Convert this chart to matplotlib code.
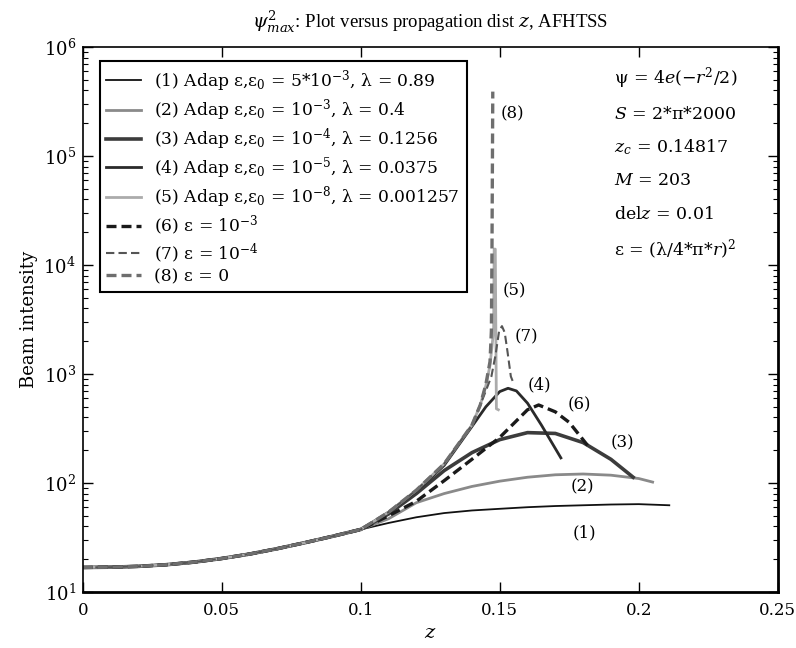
import matplotlib
matplotlib.use('Agg')
import matplotlib.pyplot as plt
import numpy as np

plt.rcParams['font.family'] = ['DejaVu Serif']
plt.rcParams['mathtext.fontset'] = 'dejavuserif'

# shared part of all runs (z from 0 to 0.1)
base_z = [0.0, 0.01, 0.02, 0.03, 0.04, 0.05, 0.06, 0.07, 0.08, 0.09, 0.10]
base_v = [16.8, 16.9, 17.2, 17.8, 18.8, 20.3, 22.3, 25.0, 28.4, 32.5, 37.5]

# steep branch shared by (5), (7), (8)
steep_z = [0.11, 0.12, 0.13, 0.136, 0.14, 0.143]
steep_v = [54, 86, 150, 245, 340, 520]

# tails of each run after the shared part
z1 = [0.11, 0.12, 0.13, 0.14, 0.15, 0.16, 0.17, 0.18, 0.19, 0.20, 0.211]
v1 = [43, 48.5, 53, 56, 58, 60, 61.5, 62.5, 63.5, 64, 62.5]
z2 = [0.11, 0.12, 0.13, 0.14, 0.15, 0.16, 0.17, 0.18, 0.19, 0.20, 0.205]
v2 = [47, 66, 80, 93, 104, 113, 119, 121, 118, 110, 102]
z3 = [0.11, 0.12, 0.13, 0.14, 0.15, 0.16, 0.17, 0.18, 0.19, 0.198]
v3 = [52, 80, 130, 190, 250, 290, 285, 235, 165, 113]
z4 = [0.11, 0.12, 0.13, 0.14, 0.145, 0.15, 0.153, 0.156, 0.16, 0.165, 0.172]
v4 = [54, 84, 145, 330, 500, 690, 740, 700, 540, 340, 170]
z5 = [0.145, 0.1465, 0.1478, 0.148, 0.1484, 0.1488, 0.1495]
v5 = [780, 1200, 2500, 14000, 14000, 480, 470]
z6 = [0.11, 0.12, 0.13, 0.14, 0.15, 0.16, 0.164, 0.17, 0.175, 0.182]
v6 = [50, 68, 105, 165, 262, 470, 520, 450, 360, 215]
z7 = [0.145, 0.147, 0.1485, 0.1498, 0.1508, 0.1518, 0.1528, 0.154, 0.155]
v7 = [700, 950, 1500, 2500, 2750, 2400, 1600, 950, 820]
z8 = [0.145, 0.1465, 0.147, 0.1472, 0.1475]
v8 = [800, 1300, 2500, 12000, 390000]

labels = [
    r'(1) Adap ε,ε$_0$ = 5*10$^{-3}$, λ = 0.89',
    r'(2) Adap ε,ε$_0$ = 10$^{-3}$, λ = 0.4',
    r'(3) Adap ε,ε$_0$ = 10$^{-4}$, λ = 0.1256',
    r'(4) Adap ε,ε$_0$ = 10$^{-5}$, λ = 0.0375',
    r'(5) Adap ε,ε$_0$ = 10$^{-8}$, λ = 0.001257',
    r'(6) ε = 10$^{-3}$',
    r'(7) ε = 10$^{-4}$',
    r'(8) ε = 0',
]

tags = ['(1)', '(2)', '(3)', '(4)', '(5)', '(6)', '(7)', '(8)']
tag_z = [0.1806, 0.1799, 0.1942, 0.1644, 0.1554, 0.1788, 0.1597, 0.1547]
tag_v = [34.8, 92, 233, 792, 5770, 520, 2180, 243000]

info = [
    r'ψ = 4$e$(−$r^2$/2)',
    r'$S$ = 2*π*2000',
    r'$z_c$ = 0.14817',
    r'$M$ = 203',
    r'del$z$ = 0.01',
    r'ε = (λ/4*π*$r$)$^2$',
]

xticks = [0, 0.05, 0.1, 0.15, 0.2, 0.25]
xticklabels = ['0', '0.05', '0.1', '0.15', '0.2', '0.25']


def run(tail_z, tail_v, steep=False):
    z = list(base_z)
    v = list(base_v)
    if steep:
        z += steep_z
        v += steep_v
    return np.array(z + tail_z), np.array(v + tail_v)


runs = [run(z1, v1), run(z2, v2), run(z3, v3), run(z4, v4),
        run(z5, v5, True), run(z6, v6), run(z7, v7, True), run(z8, v8, True)]

styles = [
    dict(color='#111111', lw=1.3, ls='-'),
    dict(color='#8a8a8a', lw=2.0, ls='-'),
    dict(color='#3c3c3c', lw=2.6, ls='-'),
    dict(color='#2a2a2a', lw=2.0, ls='-'),
    dict(color='#ababab', lw=2.0, ls='-'),
    dict(color='#1a1a1a', lw=2.4, ls=(0, (3, 1.5))),
    dict(color='#555555', lw=1.5, ls=(0, (4, 2))),
    dict(color='#6e6e6e', lw=2.4, ls=(0, (3, 1.5))),
]

fig = plt.figure(figsize=(7.96, 6.48), dpi=100)
ax = fig.add_axes([0.104, 0.0864, 0.873, 0.841])

for (z, v), st, lab in zip(runs, styles, labels):
    ax.plot(z, v, label=lab, **st)

ax.set_yscale('log')
ax.set_xlim(0, 0.25)
ax.set_ylim(10, 1e6)
ax.set_xticks(xticks)
ax.set_xticklabels(xticklabels)
ax.tick_params(which='both', direction='in', top=True, right=True)
ax.tick_params(axis='x', labelsize=12, pad=7)
ax.tick_params(axis='y', labelsize=13, pad=5)
ax.tick_params(which='major', length=7, width=1)
ax.tick_params(which='minor', length=3.5, width=0.8)
for side in ['bottom', 'right']:
    ax.spines[side].set_linewidth(2.0)
for side in ['top', 'left']:
    ax.spines[side].set_linewidth(1.2)

for t, zt, vt in zip(tags, tag_z, tag_v):
    ax.text(zt, vt, t, fontsize=12, ha='center', va='center')

info_y = [0.943, 0.877, 0.817, 0.756, 0.692, 0.628]
for s, yy in zip(info, info_y):
    ax.text(0.764, yy, s, transform=ax.transAxes, fontsize=12.5, ha='left', va='center')

leg = ax.legend(loc='upper left', bbox_to_anchor=(0.012, 0.99), fontsize=12.3,
                frameon=True, fancybox=False, framealpha=1, edgecolor='black',
                labelspacing=0.2, handlelength=2.0, borderpad=0.4)
leg.get_frame().set_linewidth(1.5)

ax.set_title(r'$\psi^2_{max}$: Plot versus propagation dist $z$, AFHTSS',
             fontsize=13.5, pad=14, family='Liberation Serif')
ax.set_xlabel(r'$z$', fontsize=14, labelpad=4)
ax.set_ylabel('Beam intensity', fontsize=13)

plt.savefig('out.png', dpi=100)
